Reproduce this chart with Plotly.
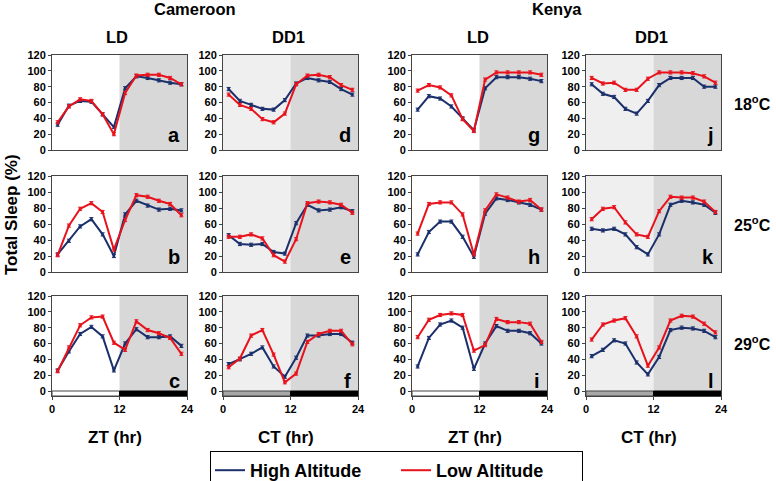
import plotly.graph_objects as go

W, H = 776, 481

HOURS = [1, 3, 5, 7, 9, 11, 13, 15, 17, 19, 21, 23]
X_TICKS = [0, 12, 24]
Y_TICKS = [0, 20, 40, 60, 80, 100, 120]

# Cameroon
CAM_LD_18_HIGH = [32, 56, 62, 61, 45, 29, 78, 93, 91, 88, 85, 83]
CAM_LD_18_LOW = [35, 55, 64, 62, 45, 20, 72, 94, 95, 95, 91, 83]
CAM_DD_18_HIGH = [77, 62, 57, 52, 51, 63, 84, 91, 88, 86, 77, 70]
CAM_DD_18_LOW = [70, 57, 52, 39, 35, 46, 83, 94, 95, 92, 82, 76]
CAM_LD_25_HIGH = [22, 39, 57, 66, 47, 20, 72, 89, 83, 78, 79, 77]
CAM_LD_25_LOW = [21, 58, 79, 86, 75, 28, 65, 96, 94, 89, 85, 71]
CAM_DD_25_HIGH = [46, 35, 34, 35, 25, 23, 61, 84, 77, 78, 81, 76]
CAM_DD_25_LOW = [44, 44, 47, 42, 21, 13, 41, 86, 88, 87, 84, 74]
CAM_LD_29_HIGH = [26, 50, 72, 81, 69, 26, 60, 78, 68, 68, 69, 57]
CAM_LD_29_LOW = [25, 55, 83, 93, 94, 61, 52, 88, 77, 73, 67, 47]
CAM_DD_29_HIGH = [34, 40, 47, 55, 31, 18, 42, 70, 70, 72, 72, 61]
CAM_DD_29_LOW = [30, 41, 70, 77, 46, 11, 22, 62, 72, 76, 76, 59]
# Kenya
KEN_LD_18_HIGH = [51, 68, 65, 55, 40, 25, 78, 92, 92, 92, 90, 87]
KEN_LD_18_LOW = [75, 82, 79, 69, 39, 24, 89, 98, 98, 98, 98, 95]
KEN_DD_18_HIGH = [83, 71, 67, 52, 46, 62, 82, 91, 91, 91, 80, 80]
KEN_DD_18_LOW = [91, 84, 85, 76, 76, 90, 98, 98, 98, 97, 93, 85]
KEN_LD_25_HIGH = [22, 50, 63, 63, 44, 19, 73, 92, 90, 87, 84, 78]
KEN_LD_25_LOW = [48, 85, 87, 87, 72, 22, 77, 97, 93, 88, 90, 78]
KEN_DD_25_HIGH = [54, 52, 54, 47, 31, 22, 47, 84, 89, 87, 84, 74]
KEN_DD_25_LOW = [66, 79, 81, 62, 47, 44, 76, 94, 93, 93, 88, 75]
KEN_LD_29_HIGH = [31, 67, 84, 89, 80, 28, 60, 82, 76, 76, 73, 60]
KEN_LD_29_LOW = [68, 90, 96, 98, 96, 51, 58, 91, 87, 87, 85, 62]
KEN_DD_29_HIGH = [44, 52, 64, 60, 36, 21, 43, 77, 80, 79, 76, 68]
KEN_DD_29_LOW = [65, 84, 89, 92, 69, 32, 55, 89, 95, 94, 85, 74]

SERIES_NAMES = ["High Altitude", "Low Altitude"]
COLORS = ["#1b2f6b", "#e8121c"]

# grid: rows = temperature, cols = Cameroon LD, Cameroon DD1, Kenya LD, Kenya DD1
GRID = [
    [(CAM_LD_18_HIGH, CAM_LD_18_LOW, "a"), (CAM_DD_18_HIGH, CAM_DD_18_LOW, "d"),
     (KEN_LD_18_HIGH, KEN_LD_18_LOW, "g"), (KEN_DD_18_HIGH, KEN_DD_18_LOW, "j")],
    [(CAM_LD_25_HIGH, CAM_LD_25_LOW, "b"), (CAM_DD_25_HIGH, CAM_DD_25_LOW, "e"),
     (KEN_LD_25_HIGH, KEN_LD_25_LOW, "h"), (KEN_DD_25_HIGH, KEN_DD_25_LOW, "k")],
    [(CAM_LD_29_HIGH, CAM_LD_29_LOW, "c"), (CAM_DD_29_HIGH, CAM_DD_29_LOW, "f"),
     (KEN_LD_29_HIGH, KEN_LD_29_LOW, "i"), (KEN_DD_29_HIGH, KEN_DD_29_LOW, "l")],
]
COL_IS_DD = [False, True, False, True]
TEMPS = ["18", "25", "29"]

# pixel layout
COL_PX = [(52, 187), (223, 358), (412, 547), (586, 721)]
ROW_PX = [(55, 150), (176, 272), (296, 396)]
BAR_BOTTOM = -6.3

FONT = "Liberation Sans, Arial, Helvetica, sans-serif"

def xd(a, b):
    return [a / W, b / W]

def yd(top, bottom):
    return [1 - bottom / H, 1 - top / H]

fig = go.Figure()
layout = dict(
    template="none",
    width=W, height=H, margin=dict(l=0, r=0, t=0, b=0, autoexpand=False),
    paper_bgcolor="white", plot_bgcolor="white",
    font=dict(family=FONT, color="black", weight="bold"),
    showlegend=True,
    legend=dict(orientation="h", x=210 / W, xanchor="left",
                y=1 - 451 / H, yanchor="top", bordercolor="black", borderwidth=1,
                bgcolor="white", font=dict(size=18, weight="bold", family=FONT),
                entrywidth=141, itemwidth=30, tracegroupgap=0),
)
shapes = []
annotations = []

idx = 0
for r, row in enumerate(GRID):
    for c, (high, low, letter) in enumerate(row):
        idx += 1
        xa = "x" if idx == 1 else f"x{idx}"
        ya = "y" if idx == 1 else f"y{idx}"
        xkey = "xaxis" if idx == 1 else f"xaxis{idx}"
        ykey = "yaxis" if idx == 1 else f"yaxis{idx}"
        bottom_row = r == 2
        layout[xkey] = dict(
            domain=xd(*COL_PX[c]), anchor=ya, range=[0, 24], automargin=False,
            showgrid=False, zeroline=False, showline=True, mirror=True,
            linecolor="#444", linewidth=1,
            tickvals=X_TICKS if bottom_row else [],
            ticks="outside" if bottom_row else "", ticklen=3,
            showticklabels=bottom_row,
            tickfont=dict(size=11, family=FONT, weight="bold"),
        )
        layout[ykey] = dict(
            domain=yd(*ROW_PX[r]), anchor=xa, automargin=False,
            range=[BAR_BOTTOM, 120] if bottom_row else [0, 120],
            showgrid=False, zeroline=False, showline=True, mirror=True,
            linecolor="#444", linewidth=1,
            tickvals=Y_TICKS, ticks="outside", ticklen=3,
            tickfont=dict(size=11, family=FONT, weight="bold"),
        )
        # background shading
        if COL_IS_DD[c]:
            shapes.append(dict(type="rect", xref=xa, yref=f"{ya} domain", x0=0, x1=12,
                               y0=0, y1=1, fillcolor="#efefef", line_width=0, layer="below"))
        shapes.append(dict(type="rect", xref=xa, yref=f"{ya} domain", x0=12, x1=24,
                           y0=0, y1=1, fillcolor="#d8d8d8", line_width=0, layer="below"))
        if bottom_row:
            shapes.append(dict(type="rect", xref=xa, yref=ya, x0=0, x1=12, y0=BAR_BOTTOM, y1=0,
                               fillcolor="#a8a8a8" if COL_IS_DD[c] else "white",
                               line=dict(color="#444", width=1)))
            shapes.append(dict(type="rect", xref=xa, yref=ya, x0=12, x1=24, y0=BAR_BOTTOM, y1=0,
                               fillcolor="black", line=dict(color="black", width=1)))
        for s, vals in enumerate([high, low]):
            fig.add_trace(go.Scatter(
                x=HOURS, y=vals, xaxis=xa, yaxis=ya, mode="lines+markers",
                name=SERIES_NAMES[s], legendgroup=SERIES_NAMES[s],
                showlegend=False,
                line=dict(color=COLORS[s], width=2),
                marker=dict(color=COLORS[s], size=3),
                error_y=dict(type="constant", value=2, color=COLORS[s],
                             thickness=1, width=2),
            ))
        annotations.append(dict(text=letter, xref=f"{xa} domain", yref=f"{ya} domain",
                                x=0.96, y=0.02, xanchor="right", yanchor="bottom",
                                showarrow=False, font=dict(size=20, weight="bold", family=FONT)))

# legend entries (line only, like the reference legend)
for s, name in enumerate(SERIES_NAMES):
    fig.add_trace(go.Scatter(x=[None], y=[None], mode="lines", name=name,
                             legendgroup=name, showlegend=True,
                             line=dict(color=COLORS[s], width=2)))

def ann(text, px, py, size, angle=0, anchor="center"):
    annotations.append(dict(text=text, xref="paper", yref="paper", x=px / W, y=1 - py / H,
                            xanchor=anchor, yanchor="middle", showarrow=False, textangle=angle,
                            font=dict(size=size, weight="bold", family=FONT)))

ann("Cameroon", 195, 9, 16.5)
ann("Kenya", 557, 9, 16.5)
for c, name in enumerate(["LD", "DD1", "LD", "DD1"]):
    ann(name, (COL_PX[c][0] + COL_PX[c][1]) / 2 - 2, 37, 16.5)
for r, t in enumerate(TEMPS):
    ann(f"{t}<sup>o</sup>C", 773, [103, 224, 343][r], 16, anchor="right")
ann("Total Sleep (%)", 11, 215, 17, angle=-90)
for c, name in enumerate(["ZT (hr)", "CT (hr)", "ZT (hr)", "CT (hr)"]):
    ann(name, (COL_PX[c][0] + COL_PX[c][1]) / 2 - 5, 437, 17)

layout["shapes"] = shapes
layout["annotations"] = annotations
fig.update_layout(**layout)
fig.write_html(
    "out.html",
    config={"displayModeBar": False},
    post_script="document.body.style.margin='0';document.body.style.overflow='hidden';",
)
